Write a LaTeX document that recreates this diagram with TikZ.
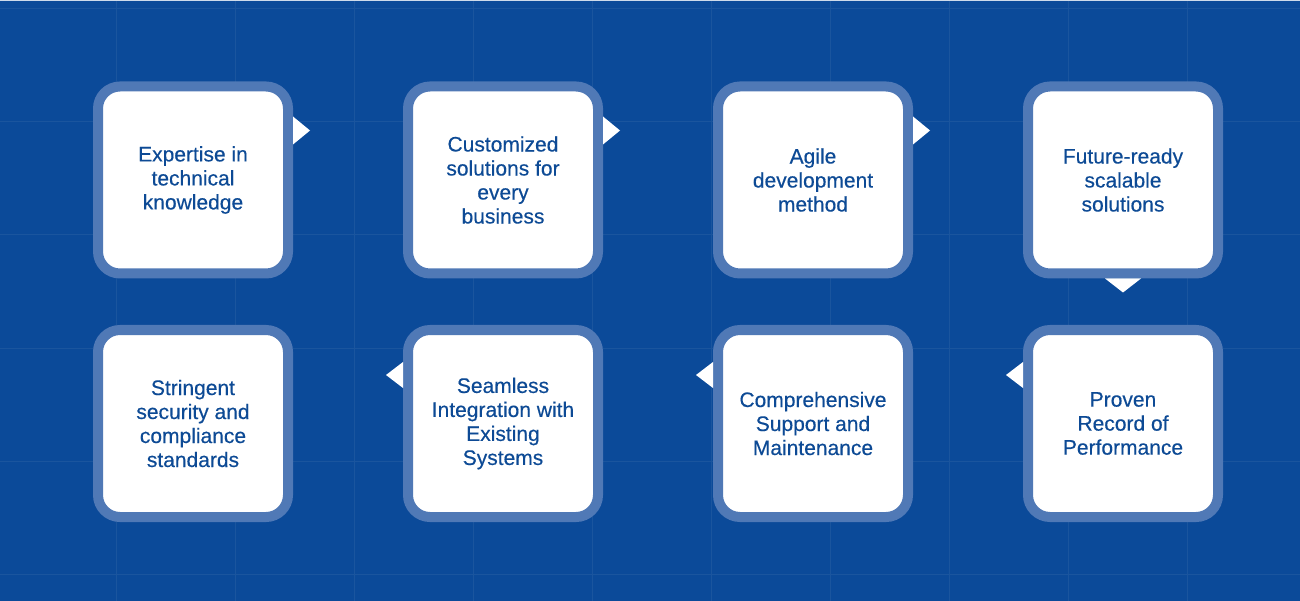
\documentclass[tikz,border=0pt]{standalone}
\usepackage{fontspec}
\setmainfont{Liberation Sans}
\newfontfamily\cardfont[FakeBold=0.35]{Liberation Sans}
\usetikzlibrary{positioning,calc}
\definecolor{navy}{HTML}{0B4A99}
\definecolor{rim}{HTML}{5079B6}
\definecolor{ink}{HTML}{0D4A95}
\definecolor{gridln}{HTML}{1A559E}

\begin{document}
\begin{tikzpicture}[x=1pt,y=-1pt,node distance=46.5pt and 110pt,
  card/.style={draw=rim,line width=10pt,fill=white,rounded corners=22pt,minimum width=190pt,minimum height=187pt,inner sep=0pt,align=center,text=ink,font=\cardfont\fontsize{21}{24}\selectfont},
  tip/.style={fill=white}]
\fill[navy] (0,0) rectangle (1300,601);
\useasboundingbox (0,0) rectangle (1300,601);
\fill[white!80!navy] (0,0) rectangle (1300,1.5);
% faint grid
\foreach \x in {116,235,...,1187} \draw[gridln,line width=1pt] (\x,1.5) -- (\x,601);
\foreach \y in {9,122,...,574} \draw[gridln,line width=1pt] (0,\y) -- (1300,\y);
% top row, left to right
\node[card] (b1) at (193,180) {Expertise in\\technical\\knowledge};
\node[card,right=of b1] (b2) {Customized\\solutions for\\every\\business};
\node[card,right=of b2] (b3) {Agile\\development\\method};
\node[card,right=of b3] (b4) {Future-ready\\scalable\\solutions};
% bottom row, right to left
\node[card,below=of b4] (b8) {Proven\\Record of\\Performance};
\node[card,left=of b8] (b7) {Comprehensive\\Support and\\Maintenance};
\node[card,left=of b7] (b6) {Seamless\\Integration with\\Existing\\Systems};
\node[card,left=of b6] (b5) {Stringent\\security and\\compliance\\standards};
% pointers
\foreach \n in {b1,b2,b3} \fill[tip] ($(\n.north east)+(0,35)$) -- ++(17,14) -- ++(-17,14) -- cycle;
\foreach \n in {b6,b7,b8} \fill[tip] ($(\n.north west)+(0,37)$) -- ++(-17,13) -- ++(17,13) -- cycle;
\fill[tip] ($(b4.south)+(-18,0)$) -- ++(18,14) -- ++(18,-14) -- cycle;
\end{tikzpicture}
\end{document}
